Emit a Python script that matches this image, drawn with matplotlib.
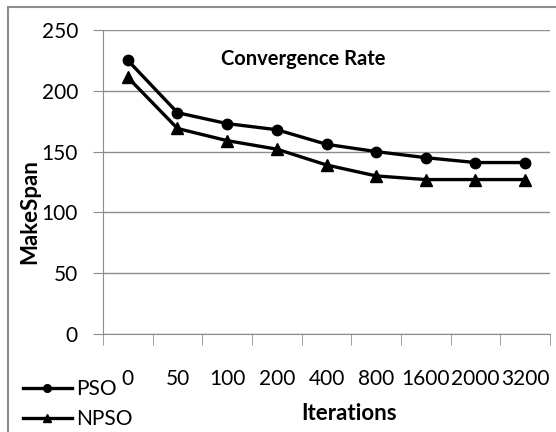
import numpy as np
import matplotlib.pyplot as plt
from matplotlib.patches import Rectangle
from matplotlib.lines import Line2D

iterations = ["0", "50", "100", "200", "400", "800", "1600", "2000", "3200"]
pso = [225, 182, 173, 168, 156, 150, 145, 141, 141]
npso = [211, 169, 159, 152, 139, 130, 127, 127, 127]

plt.rcParams['font.family'] = ['Lato', 'DejaVu Sans']

W, H = 556, 432
fig = plt.figure(figsize=(W / 100, H / 100), dpi=100)
ax = fig.add_axes([103 / W, 1 - 334 / H, (550 - 103) / W, (334 - 30) / H])

x = np.arange(len(iterations))
ax.plot(x, pso, color="black", lw=2.4, marker="o", ms=7.5, label="PSO")
ax.plot(x, npso, color="black", lw=2.4, marker="^", ms=8, label="NPSO")

grid_c = "#8c8c8c"
ax.set_xlim(-0.5, len(iterations) - 0.5)
ax.set_ylim(0, 250)
ax.set_yticks(range(0, 251, 50))
ax.yaxis.grid(True, color=grid_c, lw=1)
ax.set_axisbelow(True)
ax.tick_params(axis="y", direction="out", length=7, color=grid_c, labelsize=15, pad=11)

ax.set_xticks(x)
ax.set_xticklabels(iterations)
ax.set_xticks(np.arange(-0.5, len(iterations), 1), minor=True)
ax.tick_params(axis="x", which="major", length=0, labelsize=15, pad=25)
ax.tick_params(axis="x", which="minor", direction="out", length=8, color=grid_c)

for s in ["top", "right"]:
    ax.spines[s].set_visible(False)
ax.spines["left"].set_color(grid_c)
ax.spines["bottom"].set_color(grid_c)

ax.text(0.447, 0.905, "Convergence Rate", transform=ax.transAxes, ha="center", va="center",
        fontsize=14.5, fontweight="bold")
fig.text(30 / W, 1 - 212 / H, "MakeSpan", rotation=90, ha="center", va="center",
         fontsize=16, fontweight="bold")
fig.text(349 / W, 1 - 413 / H, "Iterations", ha="center", va="center",
         fontsize=16, fontweight="bold")

handles = [Line2D([], [], color="black", lw=2.4, marker="o", ms=5.5),
           Line2D([], [], color="black", lw=2.4, marker="^", ms=6)]
fig.legend(handles, ["PSO", "NPSO"], loc="upper left", bbox_to_anchor=(23 / W, 1 - 379 / H),
           frameon=False, fontsize=15, handlelength=2.35, handletextpad=0.2,
           labelspacing=0.5, borderpad=0, borderaxespad=0)

fig.patches.append(Rectangle((8 / W, -0.1), 1.2, 1 - 7 / H + 0.1, transform=fig.transFigure,
                             fill=False, edgecolor=grid_c, lw=1.5))

fig.savefig("out.png", dpi=100)
